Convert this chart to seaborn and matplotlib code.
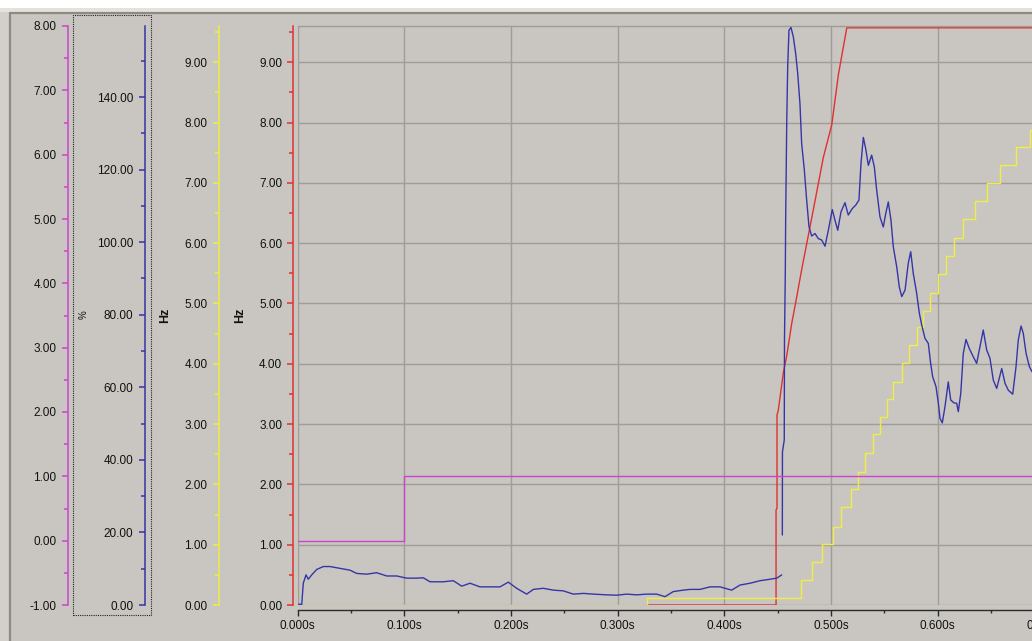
import matplotlib
matplotlib.use("Agg")
import matplotlib.pyplot as plt
import seaborn as sns
from matplotlib.ticker import MultipleLocator, FormatStrFormatter
from matplotlib.patches import Rectangle
from matplotlib.lines import Line2D

# ---------------- data (time in s) ----------------
x_ticks = [0.0, 0.1, 0.2, 0.3, 0.4, 0.5, 0.6, 0.7]
x_tick_labels = ["0.000s", "0.100s", "0.200s", "0.300s", "0.400s", "0.500s", "0.600s", "0.700s"]

# magenta (left-most axis, -1 .. 8)
mag_t = [0.0, 0.100, 0.700]
mag_v = [0.0, 1.0, 1.0]

# red (Hz, main axis 0 .. 9.6)
red_t = [0.3275, 0.4485, 0.4485, 0.4494, 0.4494, 0.4506, 0.4538, 0.4553, 0.4585,
         0.4632, 0.4679, 0.4725, 0.4834, 0.4928, 0.5007, 0.5069, 0.5148, 0.700]
red_v = [0.0, 0.0, 1.58, 1.60, 3.15, 3.23, 3.65, 3.85, 4.13,
         4.67, 5.11, 5.56, 6.55, 7.42, 7.96, 8.79, 9.57, 9.57]

# yellow (Hz, 0 .. 9.6), staircase
yel_t = [0.006, 0.3275, 0.4719, 0.4819, 0.4918, 0.5022, 0.5094, 0.5185, 0.5256, 0.5319,
         0.5396, 0.5459, 0.5522, 0.5584, 0.5663, 0.5734, 0.5803, 0.5865, 0.5928, 0.6006,
         0.6078, 0.6153, 0.6234, 0.6350, 0.6459, 0.6584, 0.6734, 0.6865, 0.700]
yel_v = [0.0, 0.11, 0.41, 0.71, 1.01, 1.30, 1.62, 1.92, 2.21, 2.52,
         2.83, 3.12, 3.41, 3.70, 4.01, 4.31, 4.61, 4.88, 5.18, 5.49,
         5.79, 6.09, 6.40, 6.70, 6.99, 7.29, 7.60, 7.87, 7.87]

# blue (%, 0 .. 160) - before the dropout
blue_t_a = [0.001, 0.004, 0.0054, 0.0080, 0.0101, 0.0133, 0.0180, 0.0242, 0.0305, 0.0398,
            0.0492, 0.0555, 0.0649, 0.0742, 0.0836, 0.0930, 0.1023, 0.1117, 0.1179, 0.1242,
            0.1366, 0.1460, 0.1539, 0.1617, 0.1710, 0.1804, 0.1898, 0.1976, 0.2054, 0.2148,
            0.2210, 0.2304, 0.2397, 0.2491, 0.2585, 0.2679, 0.2772, 0.2898, 0.2992, 0.3085,
            0.3179, 0.3273, 0.3366, 0.3444, 0.3522, 0.3616, 0.3679, 0.3772, 0.3866, 0.3960,
            0.4069, 0.4147, 0.4241, 0.4335, 0.4428, 0.4491, 0.4538]
blue_v_a = [0.2, 0.2, 6.0, 8.3, 7.1, 8.3, 9.8, 10.6, 10.6, 10.1,
            9.6, 8.7, 8.5, 8.9, 8.0, 8.0, 7.4, 7.4, 7.5, 6.4,
            6.4, 6.7, 5.2, 6.0, 5.0, 5.0, 5.0, 6.3, 4.6, 3.0,
            4.3, 4.6, 4.1, 3.9, 3.0, 3.2, 3.0, 2.8, 2.7, 3.0,
            2.8, 3.0, 3.0, 2.3, 3.7, 4.1, 4.3, 4.3, 5.0, 5.0,
            4.1, 5.5, 6.0, 6.7, 7.1, 7.4, 8.3]
# blue - after the dropout
blue_t_b = [0.4544, 0.4545, 0.4562, 0.4564, 0.4572, 0.4575, 0.4585, 0.4594, 0.4606, 0.4625,
            0.4647, 0.4669, 0.4688, 0.4709, 0.4725, 0.4750, 0.4772, 0.4794, 0.4819, 0.4850,
            0.4881, 0.4913, 0.4944, 0.4975, 0.5012, 0.5037, 0.5063, 0.5094, 0.5131, 0.5162,
            0.5200, 0.5231, 0.5262, 0.5281, 0.5303, 0.5325, 0.5350, 0.5381, 0.5406, 0.5428,
            0.5459, 0.5490, 0.5513, 0.5537, 0.5562, 0.5584, 0.5616, 0.5640, 0.5663, 0.5694,
            0.5724, 0.5747, 0.5771, 0.5803, 0.5828, 0.5850, 0.5881, 0.5912, 0.5934, 0.5953,
            0.5984, 0.6006, 0.6022, 0.6043, 0.6068, 0.6099, 0.6122, 0.6153, 0.6178, 0.6193,
            0.6216, 0.6240, 0.6265, 0.6296, 0.6334, 0.6365, 0.6396, 0.6427, 0.6459, 0.6490,
            0.6521, 0.6553, 0.6600, 0.6631, 0.6662, 0.6703, 0.6734, 0.6755, 0.6781, 0.6802,
            0.6828, 0.6859, 0.6884, 0.6959]
blue_v_b = [19.3, 42.2, 45.5, 73.0, 92.3, 106.1, 132.7, 148.3, 158.4, 159.2,
            156.6, 152.0, 146.5, 138.2, 127.2, 119.9, 111.6, 104.2, 101.7, 102.4,
            101.0, 100.6, 98.9, 103.3, 109.0, 106.1, 103.3, 108.4, 110.9, 107.5,
            109.3, 110.2, 111.6, 121.7, 128.9, 125.8, 121.2, 124.0, 120.8, 114.4,
            107.0, 104.2, 107.9, 111.1, 106.1, 98.7, 93.2, 87.7, 85.0, 86.8,
            94.2, 97.4, 91.4, 85.9, 80.4, 77.2, 73.5, 72.1, 66.6, 62.9,
            60.2, 55.6, 51.4, 50.2, 54.6, 61.5, 56.5, 55.7, 55.6, 53.3,
            58.3, 69.4, 73.2, 70.7, 68.4, 66.6, 71.2, 75.8, 70.3, 68.0,
            62.0, 59.7, 65.2, 61.1, 59.2, 58.1, 65.7, 73.0, 76.9, 74.9,
            69.4, 65.7, 64.3, 67.5]

# ---------------- style ----------------
sns.set_theme(style="ticks")
plt.rcParams["font.family"] = ["Liberation Sans", "DejaVu Sans"]
plt.rcParams["axes.unicode_minus"] = False

BG = "#C9C6C1"
GRID = "#A09D98"
MAG = "#CC44CC"
BLUE = "#3535A8"
YEL = "#EEEE44"
RED = "#E03030"
TXT = "#111111"

W, H = 1032, 641
PT = 72.0 / 100.0  # points per pixel at dpi 100


def fx(px):
    return px / W


def fy(py):
    return 1 - py / H


fig = plt.figure(figsize=(W / 100, H / 100), dpi=100, facecolor=BG)

# window decorations
fig.patches.append(Rectangle((0, fy(8.5)), 1, 8.5 / H, transform=fig.transFigure,
                             facecolor="white", edgecolor="none", zorder=-5))
fig.patches.append(Rectangle((0, fy(11.5)), 1, 3 / H, transform=fig.transFigure,
                             facecolor="#E4E2DC", edgecolor="none", zorder=-5))
fig.patches.append(Rectangle((0, 0), fx(8.5), fy(11.5), transform=fig.transFigure,
                             facecolor="#D3D0CB", edgecolor="none", zorder=-5))
fig.lines.append(Line2D([fx(9.5), 1], [fy(12.5), fy(12.5)], transform=fig.transFigure,
                        color="#8C8A82", lw=1.6))
fig.lines.append(Line2D([fx(9.5), fx(9.5)], [0, fy(12.5)], transform=fig.transFigure,
                        color="#8C8A82", lw=1.6))

# main axes (red / Hz)
ax = fig.add_axes([fx(297.5), fy(605), 746.9 / W, 579 / H])
ax.set_facecolor(BG)
ax.set_xlim(0, 0.70)

ax_yel = ax.twinx()
ax_blue = ax.twinx()
ax_mag = ax.twinx()


def style_y(a, color, offset_px, lo, hi, major, minor):
    a.set_ylim(lo, hi)
    a.yaxis.set_major_locator(MultipleLocator(major))
    a.yaxis.set_minor_locator(MultipleLocator(minor))
    a.yaxis.set_major_formatter(FormatStrFormatter("%.2f"))
    a.yaxis.tick_left()
    for s in ("top", "right", "bottom"):
        a.spines[s].set_visible(False)
    a.spines["left"].set_visible(True)
    a.spines["left"].set_position(("outward", offset_px * PT))
    a.spines["left"].set_color(color)
    a.spines["left"].set_linewidth(1.1)
    a.tick_params(axis="y", which="major", length=6 * PT, width=1.1, color=color,
                  labelcolor=TXT, labelsize=8.5, pad=3.6, direction="out",
                  left=True, right=False, labelleft=True, labelright=False)
    a.tick_params(axis="y", which="minor", length=4 * PT, width=1.1, color=color,
                  direction="out", left=True, right=False)
    a.set_ylabel("")


style_y(ax, RED, 4.2, 0, 9.6, 1, 0.5)
style_y(ax_yel, YEL, 79, 0, 9.6, 1, 0.5)
style_y(ax_blue, BLUE, 153, 0, 159.6, 20, 10)
style_y(ax_mag, MAG, 230, -1, 8, 1, 0.5)

# main frame / grid / x axis
ax.spines["top"].set_visible(True)
ax.spines["top"].set_color(GRID)
ax.spines["top"].set_linewidth(1.0)
ax.spines["bottom"].set_visible(True)
ax.spines["bottom"].set_position(("outward", 5 * PT))
ax.spines["bottom"].set_color("#2A2A2A")
ax.spines["bottom"].set_linewidth(1.0)
ax.grid(True, which="major", axis="both", color=GRID, linewidth=1.0)
ax.set_axisbelow(True)
ax.set_xticks(x_ticks, labels=x_tick_labels)
ax.xaxis.set_minor_locator(MultipleLocator(0.05))
ax.tick_params(axis="x", which="major", length=6 * PT, width=1.0, color="#2A2A2A",
               labelcolor=TXT, labelsize=8.5, pad=3, direction="out")
ax.tick_params(axis="x", which="minor", length=3 * PT, width=1.0, color="#2A2A2A",
               direction="out")

LW = 1.0
sns.lineplot(x=red_t, y=red_v, ax=ax, color=RED, linewidth=LW,
             estimator=None, sort=False)
sns.lineplot(x=yel_t, y=yel_v, ax=ax_yel, color=YEL, linewidth=LW,
             estimator=None, sort=False, drawstyle="steps-post")
sns.lineplot(x=blue_t_a, y=blue_v_a, ax=ax_blue, color=BLUE, linewidth=LW,
             estimator=None, sort=False)
sns.lineplot(x=blue_t_b, y=blue_v_b, ax=ax_blue, color=BLUE, linewidth=LW,
             estimator=None, sort=False)
sns.lineplot(x=mag_t, y=mag_v, ax=ax_mag, color=MAG, linewidth=LW,
             estimator=None, sort=False, drawstyle="steps-post")

for a in (ax, ax_yel, ax_blue, ax_mag):
    a.set_xlabel("")
    a.set_ylabel("")
    a.set_xlim(0, 0.70)
ax_yel.set_ylim(0, 9.6)
ax_blue.set_ylim(0, 159.6)
ax_mag.set_ylim(-1, 8)
ax.set_ylim(0, 9.6)

# axis titles
fig.text(fx(84), fy(315), "%", rotation=90, ha="center", va="center",
         fontsize=7, color=TXT)
fig.text(fx(165), fy(315), "Hz", rotation=90, ha="center", va="center",
         fontsize=9, fontweight="bold", color=TXT)
fig.text(fx(240), fy(315), "Hz", rotation=90, ha="center", va="center",
         fontsize=9, fontweight="bold", color=TXT)

# dotted focus rectangle around the % axis
fig.patches.append(Rectangle((fx(73), fy(615)), 78 / W, 600 / H, transform=fig.transFigure,
                             fill=False, edgecolor="#222222", linestyle=(0, (1, 1)),
                             linewidth=0.8))

fig.savefig("out.png", dpi=100, facecolor=BG)
